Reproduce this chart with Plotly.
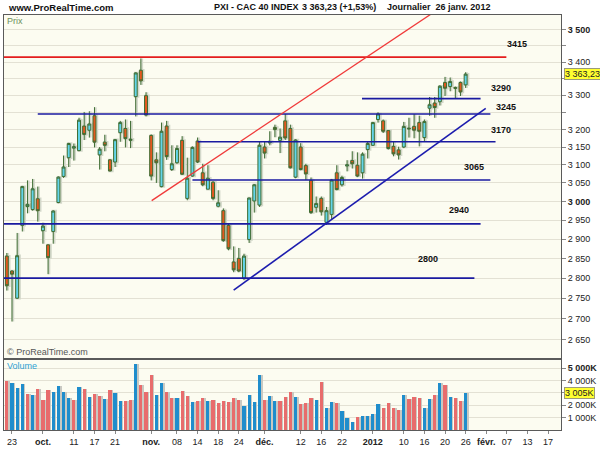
import numpy as np
import pandas as pd
import plotly.graph_objects as go

# ---------------- data ----------------
# trading calendar (Euronext Paris, 26 Dec 2011 closed)
trading_days = [d.strftime("%Y-%m-%d") for d in pd.bdate_range("2011-09-22", "2012-02-17")
                if d.strftime("%Y-%m-%d") != "2011-12-26"]

opens = [2856, 2818, 2750, 2936, 2986, 2978, 3007, 2922, 2885, 2920,
         2997, 3068, 3120, 3147, 3140, 3210, 3198, 3240, 3128, 3164,
         3114, 3108, 3191, 3203, 3169, 3296, 3375, 3299, 3183, 3114,
         3040, 3210, 3087, 3106, 3169, 3008, 3069, 3167, 3078, 3033,
         3052, 2987, 2975, 2936, 2841, 2850, 2800, 2899, 3001, 2990,
         3150, 3162, 3206, 3169, 3225, 3203, 3066, 3150, 3098, 3057,
         2984, 3008, 2944, 2965, 3078, 3045, 3097, 3112, 3099, 3078,
         3143, 3155, 3229, 3225, 3197, 3152, 3142, 3150, 3204, 3209,
         3220, 3177, 3262, 3277, 3281, 3338, 3326, 3323, 3338, 3331]
highs = [2864, 2820, 2916, 3042, 3057, 3061, 3040, 2943, 2886, 2976,
         3068, 3126, 3162, 3160, 3234, 3251, 3253, 3265, 3150, 3185,
         3116, 3173, 3225, 3229, 3225, 3369, 3411, 3309, 3186, 3135,
         3220, 3225, 3155, 3155, 3181, 3120, 3152, 3177, 3103, 3099,
         3055, 3030, 2981, 2941, 2881, 2877, 2862, 3010, 3047, 3165,
         3167, 3195, 3214, 3203, 3245, 3214, 3172, 3161, 3103, 3065,
         3013, 3013, 2985, 3061, 3099, 3070, 3113, 3138, 3135, 3135,
         3165, 3222, 3250, 3229, 3198, 3165, 3151, 3222, 3234, 3245,
         3240, 3229, 3295, 3295, 3330, 3355, 3353, 3326, 3341, 3369]
lows = [2769, 2693, 2748, 2920, 2968, 2975, 2946, 2888, 2810, 2888,
        2995, 3064, 3094, 3112, 3138, 3170, 3177, 3149, 3087, 3138,
        3082, 3094, 3165, 3149, 3147, 3238, 3331, 3238, 3057, 3050,
        3038, 3114, 3083, 3103, 3072, 3003, 3067, 3105, 3041, 3033,
        3003, 2984, 2893, 2871, 2815, 2815, 2795, 2890, 2970, 2985,
        3118, 3155, 3178, 3133, 3170, 3090, 3063, 3085, 3058, 2966,
        2970, 2962, 2937, 2953, 3030, 3040, 3082, 3090, 3066, 3062,
        3118, 3153, 3220, 3190, 3143, 3124, 3115, 3147, 3177, 3175,
        3152, 3166, 3240, 3234, 3270, 3298, 3312, 3290, 3298, 3322]
closes = [2781, 2810, 2857, 3040, 2992, 3034, 2975, 2934, 2852, 2974,
          3066, 3094, 3160, 3151, 3227, 3186, 3216, 3164, 3144, 3155,
          3083, 3171, 3220, 3174, 3172, 3367, 3343, 3242, 3069, 3106,
          3195, 3123, 3103, 3146, 3074, 3063, 3149, 3108, 3045, 3063,
          3008, 2996, 2896, 2875, 2821, 2818, 2856, 3009, 3045, 3155,
          3133, 3166, 3200, 3178, 3176, 3092, 3170, 3087, 3075, 2970,
          2994, 2972, 2975, 3058, 3032, 3065, 3100, 3103, 3069, 3130,
          3160, 3220, 3245, 3195, 3146, 3131, 3128, 3209, 3202, 3198,
          3195, 3223, 3272, 3264, 3327, 3321, 3341, 3321, 3310, 3363.23]
close_before_first = 2935.8

volumes_k = [3930, 3770, 3397, 3717, 2917, 2837, 3317, 2384, 3237, 3024,
             3557, 3024, 2570, 2437, 3450, 3264, 2677, 2917, 2730, 2490,
             3237, 2970, 2304, 2357, 2437, 5317, 3637, 3077, 4437, 2810,
             3797, 3024, 2544, 2597, 3157, 2730, 2250, 2304, 2544, 2330,
             2437, 2197, 2330, 2250, 2544, 2437, 1957, 2837, 2250, 4464,
             2410, 2730, 2357, 2357, 2677, 3077, 2677, 2117, 2197, 2597,
             2384, 3904, 1797, 2250, 2197, 1504, 917, 624, 1050, 1157,
             1157, 1317, 2064, 1797, 2197, 1770, 1637, 2837, 2517, 2677,
             2597, 1770, 2517, 2784, 3770, 3584, 2677, 2597, 2330, 3005]

tick_dates = ["2011-09-23", "2011-10-03", "2011-10-11", "2011-10-17", "2011-10-21",
              "2011-11-01", "2011-11-08", "2011-11-14", "2011-11-18", "2011-11-24",
              "2011-12-01", "2011-12-12", "2011-12-16", "2011-12-22", "2012-01-02",
              "2012-01-10", "2012-01-16", "2012-01-20", "2012-01-26", "2012-02-01",
              "2012-02-07", "2012-02-13", "2012-02-17"]
tick_labels = ["23", "<b>oct.</b>", "11", "17", "21", "<b>nov.</b>", "08", "14", "18", "24",
               "<b>déc.</b>", "12", "16", "22", "<b>2012</b>", "10", "16", "20", "26",
               "<b>févr.</b>", "07", "13", "17"]

price_ticks = list(range(2650, 3501, 50))
price_tick_text = {3500: "<b>3 500</b>", 3000: "<b>3 000</b>", 3450: "", 3350: "", 3250: ""}
vol_ticks_k = [1000, 2000, 3000, 4000, 5000]
vol_tick_text = ["1 000K", "2 000K", "", "4 000K", "<b>5 000K</b>"]

levels = [3415, 3290, 3245, 3165, 3058, 2940, 2800]
level_labels = ["3415", "3290", "3245", "3170", "3065", "2940", "2800"]

# trend lines: (day index, price)
red_trend = [(28.1, 3002), (87.9, 3612)]
blue_trend = [(44.0, 2770), (92.9, 3261.5)]

last_price_text = "3 363,23"
last_volume_text = "3 005K"

# ---------------- figure ----------------
pos = {d: i for i, d in enumerate(trading_days)}
dates = trading_days[:len(closes)]
x = [pos[d] for d in dates]
FONT = "Liberation Sans, Arial, sans-serif"

UP_FILL = "#63d5ea"
DN_FILL = "#e3581f"
EDGE = "#3f6d33"
VOL_UP = "#1f8dcc"
VOL_DN = "#e86c6c"
SHADOW = "#d3d8ca"

prev = [close_before_first] + closes[:-1]
vcolors = [VOL_UP if c > p else VOL_DN for c, p in zip(closes, prev)]
vol_units = [v * 1000 for v in volumes_k]

xr = [-0.55, 107.5]
HALO_SHIFT = 0.2

fig = go.Figure()

# volume shadow + bars
fig.add_trace(go.Bar(x=[v + 0.3 for v in x], y=vol_units, marker_color="#c9c9c2",
                     marker_line_width=0, width=0.62, xaxis="x2", yaxis="y2",
                     hoverinfo="skip"))
fig.add_trace(go.Bar(x=x, y=vol_units, marker_color=vcolors,
                     marker_line_width=0, width=0.62, xaxis="x2", yaxis="y2",
                     hoverinfo="skip"))

# candle halo on the base price axis (shifted slightly right)
fig.add_trace(go.Candlestick(
    x=[v + HALO_SHIFT for v in x], open=opens, high=highs, low=lows, close=closes,
    increasing=dict(line=dict(color=SHADOW, width=2.4), fillcolor=SHADOW),
    decreasing=dict(line=dict(color=SHADOW, width=2.4), fillcolor=SHADOW),
    whiskerwidth=0, xaxis="x", yaxis="y", hoverinfo="skip"))

# real candles on an overlaid x axis with identical range (drawn above the halo)
fig.add_trace(go.Candlestick(
    x=x, open=opens, high=highs, low=lows, close=closes,
    increasing=dict(line=dict(color=EDGE, width=1), fillcolor=UP_FILL),
    decreasing=dict(line=dict(color=EDGE, width=1), fillcolor=DN_FILL),
    whiskerwidth=0, xaxis="x3", yaxis="y"))

# horizontal levels: (x start, x end, label x, label shift px, colour)
level_style = [
    (-0.6, 96.9, 98.9, 13, "#e41e1e"),
    (68.9, 91.9, 95.9, 11, "#1a1aa0"),
    (6.0, 93.8, 96.8, 7, "#1a1aa0"),
    (37.0, 94.8, 95.8, 12, "#1a1aa0"),
    (36.0, 93.8, 90.7, 13, "#1a1aa0"),
    (-0.6, 91.9, 87.8, 14, "#1a1aa0"),
    (-0.6, 90.7, 81.7, 19, "#1a1aa0"),
]
annotations = []
for lv, lab, (xs, xe, lx, sh, col) in zip(levels, level_labels, level_style):
    fig.add_trace(go.Scatter(x=[xs, xe], y=[lv, lv], mode="lines",
                             line=dict(color=col, width=1.6), xaxis="x3", yaxis="y",
                             hoverinfo="skip"))
    annotations.append(dict(x=lx, y=np.log10(lv), xref="x", yref="y", text="<b>%s</b>" % lab,
                            showarrow=False, yshift=sh, font=dict(size=9, color="#111", family=FONT)))

for pts, col, w in [(red_trend, "#f03a3a", 1.3), (blue_trend, "#1c1cae", 1.6)]:
    fig.add_trace(go.Scatter(x=[p[0] for p in pts], y=[p[1] for p in pts], mode="lines",
                             line=dict(color=col, width=w), xaxis="x3", yaxis="y",
                             hoverinfo="skip"))

def px2paper(px, py):
    return (px - 3) / 559.0, (435 - py) / 420.0

def txt(px, py, text, size=9, color="#111", anchor="left"):
    xp, yp = px2paper(px, py)
    annotations.append(dict(x=xp, y=yp, xref="paper", yref="paper", text=text, showarrow=False,
                            xanchor=anchor, yanchor="middle",
                            font=dict(size=size, color=color, family=FONT)))

txt(5, 7, "<b>www.ProRealTime.com</b>", size=9.5)
txt(212, 7, "<b>PXI - CAC 40 INDEX</b>", size=9)
txt(300, 7, "<b>3 363,23 (+1,53%)</b>", size=9)
txt(385, 7, "<b>Journalier\u00a0\u00a026 janv. 2012</b>", size=9)
txt(4, 21, "Prix", size=9, color="#6b8f5c")
txt(4, 356, "© ProRealTime.com", size=9, color="#555")
txt(4, 370, "Volume", size=9, color="#2f9fd3")

annotations.append(dict(x=1, y=np.log10(closes[-1]), xref="paper", yref="y", text=last_price_text,
                        xanchor="left", xshift=3, showarrow=False, bgcolor="#ffff30",
                        bordercolor="#9a9a7a", borderwidth=1, borderpad=0,
                        font=dict(size=9, color="#222", family=FONT)))
annotations.append(dict(x=1, y=volumes_k[-1] * 1000, xref="paper", yref="y2", text=last_volume_text,
                        xanchor="left", xshift=3, showarrow=False, bgcolor="#ffff30",
                        bordercolor="#9a9a7a", borderwidth=1, borderpad=0,
                        font=dict(size=9, color="#222", family=FONT)))

axis_common = dict(showline=True, mirror=True, linecolor="#5a5a5a", linewidth=1, zeroline=False)

fig.update_layout(
    width=600, height=450, margin=dict(l=3, r=38, t=15, b=15),
    paper_bgcolor="white", plot_bgcolor="#fcfcf1", showlegend=False,
    font=dict(family=FONT, size=9, color="#222"),
    boxgap=0.18, barmode="overlay",
    xaxis=dict(domain=[0, 1], anchor="y", range=xr, showticklabels=False, showgrid=False,
               ticks="", rangeslider=dict(visible=False), **axis_common),
    xaxis3=dict(overlaying="x", anchor="y", range=xr,
                visible=False, showgrid=False, zeroline=False, rangeslider=dict(visible=False)),
    xaxis2=dict(domain=[0, 1], anchor="y2", range=xr, matches="x", showgrid=False,
                tickvals=[pos[d] for d in tick_dates], ticktext=tick_labels,
                ticks="outside", ticklen=3, tickcolor="#888", tickfont=dict(size=9, color="#222"),
                **axis_common),
    yaxis=dict(domain=[0.1738, 1], anchor="x", side="right", type="log",
               range=[np.log10(2606.4), np.log10(3546.9)],
               tickvals=price_ticks,
               ticktext=[price_tick_text.get(v, "%d %03d" % (v // 1000, v % 1000)) for v in price_ticks],
               showgrid=True, gridcolor="#e3e1d4", gridwidth=1,
               ticks="outside", ticklen=4, tickcolor="#888", tickfont=dict(size=9, color="#222"),
               **axis_common),
    yaxis2=dict(domain=[0, 0.1683], anchor="x2", side="right", range=[0, 5640000],
                tickvals=[v * 1000 for v in vol_ticks_k], ticktext=vol_tick_text,
                showgrid=True, gridcolor="#e3e1d4", gridwidth=1,
                ticks="outside", ticklen=4, tickcolor="#888", tickfont=dict(size=9, color="#222"),
                **axis_common),
    annotations=annotations,
    bargap=0,
)

fig.write_html("out.html")
